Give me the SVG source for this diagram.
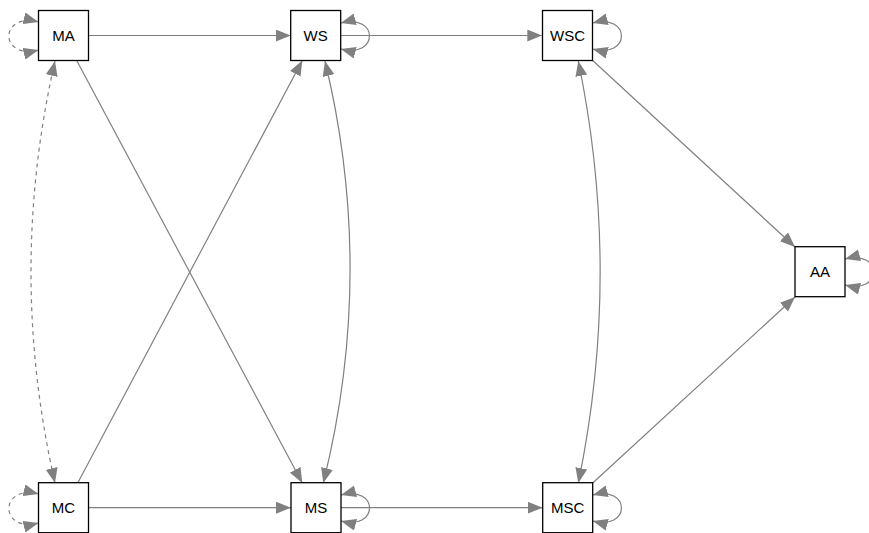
<svg xmlns="http://www.w3.org/2000/svg" width="869" height="533" viewBox="0 0 869 533">
  <style>
    .box { fill: #ffffff; stroke: #000000; stroke-width: 1.3; }
    .lbl { font-family: "Liberation Sans", Arial, sans-serif; font-size: 15px; fill: #000000; text-anchor: middle; dominant-baseline: central; }
    .edge { fill: none; stroke: #808080; stroke-width: 1.2; }
    .dash { stroke-dasharray: 4 4; }
  </style>
  <defs>
    <marker id="arr" viewBox="0 0 15 12" refX="15" refY="6" markerWidth="15" markerHeight="12" markerUnits="userSpaceOnUse" orient="auto-start-reverse">
      <path d="M0,0 L15,6 L0,12 Z" fill="#808080"/>
    </marker>
  </defs>
  <rect width="869" height="533" fill="#ffffff"/>

  <g id="connectors">
    <!-- directed paths -->
    <line class="edge" x1="88.5" y1="35.5" x2="290.7" y2="35.5" marker-end="url(#arr)"/>
    <line class="edge" x1="340.7" y1="35.5" x2="542.3" y2="35.5" marker-end="url(#arr)"/>
    <line class="edge" x1="88.5" y1="507.7" x2="291" y2="507.7" marker-end="url(#arr)"/>
    <line class="edge" x1="341" y1="507.7" x2="542.7" y2="507.7" marker-end="url(#arr)"/>
    <line class="edge" x1="76.7" y1="60.5" x2="302.3" y2="483" marker-end="url(#arr)"/>
    <line class="edge" x1="77.7" y1="483" x2="302.3" y2="60.5" marker-end="url(#arr)"/>
    <line class="edge" x1="592.7" y1="60.5" x2="795" y2="247" marker-end="url(#arr)"/>
    <line class="edge" x1="592.7" y1="483" x2="795" y2="297" marker-end="url(#arr)"/>

    <!-- covariances -->
    <path class="edge dash" d="M55,61 Q7,272 55,483" marker-start="url(#arr)" marker-end="url(#arr)"/>
    <path class="edge" d="M325,61 Q376,272 323.3,483" marker-start="url(#arr)" marker-end="url(#arr)"/>
    <path class="edge" d="M578.3,61 Q622,272 578.3,483" marker-start="url(#arr)" marker-end="url(#arr)"/>

    <!-- variances -->
    <path class="edge dash" d="M38.5,22 C-1,12 -1,60 38.5,50" marker-start="url(#arr)" marker-end="url(#arr)"/>
    <path class="edge dash" d="M38.5,494 C-1,484 -1,533 38.5,523" marker-start="url(#arr)" marker-end="url(#arr)"/>
    <path class="edge" d="M340.7,23 C379,13 379,59 340.7,49" marker-start="url(#arr)" marker-end="url(#arr)"/>
    <path class="edge" d="M341,495 C379,485 379,531 341,521" marker-start="url(#arr)" marker-end="url(#arr)"/>
    <path class="edge" d="M592.7,23 C631,13 631,59 592.7,49" marker-start="url(#arr)" marker-end="url(#arr)"/>
    <path class="edge" d="M592.7,495 C631,485 631,531 592.7,521" marker-start="url(#arr)" marker-end="url(#arr)"/>
    <path class="edge" d="M845,259 C883,249 883,295 845,285" marker-start="url(#arr)" marker-end="url(#arr)"/>
  </g>

  <g id="MA"><rect class="box" x="38.5" y="10.5" width="50" height="50"/><text class="lbl" x="63.5" y="35.5">MA</text></g>
  <g id="WS"><rect class="box" x="290.7" y="10.5" width="50" height="50"/><text class="lbl" x="315.7" y="35.5">WS</text></g>
  <g id="WSC"><rect class="box" x="542.5" y="10.5" width="50" height="50"/><text class="lbl" x="567.5" y="35.5">WSC</text></g>
  <g id="AA"><rect class="box" x="795" y="246.7" width="50" height="50"/><text class="lbl" x="820" y="271.7">AA</text></g>
  <g id="MC"><rect class="box" x="38.5" y="482.7" width="50" height="50"/><text class="lbl" x="63.5" y="507.7">MC</text></g>
  <g id="MS"><rect class="box" x="291" y="482.7" width="50" height="50"/><text class="lbl" x="316" y="507.7">MS</text></g>
  <g id="MSC"><rect class="box" x="542.7" y="482.7" width="50" height="50"/><text class="lbl" x="567.7" y="507.7">MSC</text></g>
</svg>
